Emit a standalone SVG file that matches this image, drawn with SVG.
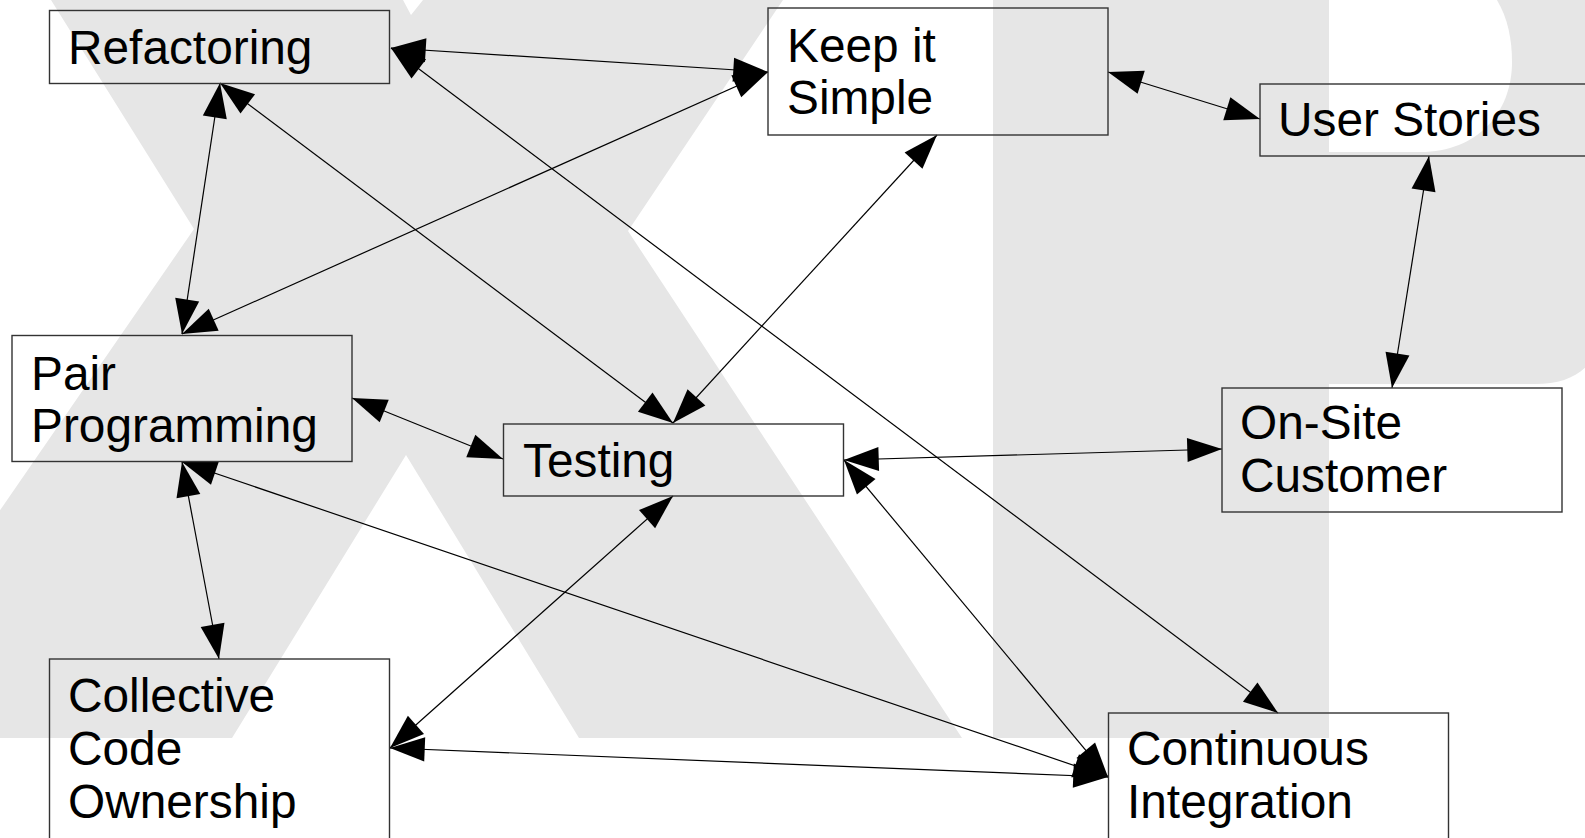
<svg xmlns="http://www.w3.org/2000/svg" width="1585" height="838" viewBox="0 0 1585 838">
  <style>
    .bg { fill: #e6e6e6; stroke: none; }
    .box { fill: none; stroke: #333333; stroke-width: 1.4; }
    .lbl { font-family: "Liberation Sans", Arial, sans-serif; font-size: 47.8px; fill: #000000; }
    .edge { stroke: #000000; stroke-width: 1.2; fill: none; marker-start: url(#head); marker-end: url(#head); }
  </style>
  <defs>
    <marker id="head" markerUnits="userSpaceOnUse" markerWidth="40" markerHeight="30" viewBox="-36 -14 38 28" refX="0" refY="0" orient="auto-start-reverse">
      <path d="M0,0 L-33,-11.5 L-33,11.5 Z" fill="#000000"/>
    </marker>
  </defs>

  <rect width="1585" height="838" fill="#ffffff"/>

  <!-- background lettering: X and P -->
  <g id="backdrop">
    <path class="bg" d="M51,0 L403,0 L411,15 L423,0 L783,0 L628,231 L962,738 L579,738 L406,455 L232,738 L-157,738 L194,229 Z"/>
    <path class="bg" d="M993,-10 L1600,-10 L1600,345 C1590,370 1570,384 1535,384 L1329,384 L1329,738 L993,738 Z"/>
    <path fill="#ffffff" d="M1329,-10 L1490,-10 C1506,10 1512,35 1512,62 C1512,112 1478,152 1420,152 L1329,152 Z"/>
  </g>

  <!-- connectors -->
  <g id="connectors">
    <line class="edge" x1="391" y1="48" x2="768" y2="72"/>
    <line class="edge" x1="220" y1="83" x2="182" y2="334"/>
    <line class="edge" x1="220" y1="83" x2="673" y2="423"/>
    <line class="edge" x1="391" y1="48" x2="1278" y2="713"/>
    <line class="edge" x1="768" y1="72" x2="182" y2="334"/>
    <line class="edge" x1="1108" y1="72" x2="1260" y2="119"/>
    <line class="edge" x1="937" y1="135" x2="673" y2="423"/>
    <line class="edge" x1="1429" y1="156" x2="1392" y2="388"/>
    <line class="edge" x1="352" y1="398" x2="503" y2="459"/>
    <line class="edge" x1="182" y1="462" x2="219" y2="659"/>
    <line class="edge" x1="182" y1="462" x2="1108" y2="777"/>
    <line class="edge" x1="844" y1="460" x2="1222" y2="449"/>
    <line class="edge" x1="673" y1="496" x2="390" y2="748"/>
    <line class="edge" x1="844" y1="460" x2="1108" y2="777"/>
    <line class="edge" x1="390" y1="748" x2="1108" y2="777"/>
  </g>

  <g id="refactoring">
    <rect class="box" x="49.5" y="10.5" width="340" height="73"/>
    <text class="lbl" x="68" y="64">Refactoring</text>
  </g>

  <g id="keep-it-simple">
    <rect class="box" x="768" y="8" width="340" height="127"/>
    <text class="lbl" x="787" y="62">Keep it</text>
    <text class="lbl" x="787" y="114">Simple</text>
  </g>

  <g id="user-stories">
    <rect class="box" x="1260" y="84" width="340" height="72"/>
    <text class="lbl" x="1278" y="136">User Stories</text>
  </g>

  <g id="pair-programming">
    <rect class="box" x="12" y="335.5" width="340" height="126"/>
    <text class="lbl" x="31" y="389.5">Pair</text>
    <text class="lbl" x="31" y="441.5">Programming</text>
  </g>

  <g id="testing">
    <rect class="box" x="503.5" y="424" width="340" height="72"/>
    <text class="lbl" x="523" y="477">Testing</text>
  </g>

  <g id="on-site-customer">
    <rect class="box" x="1222" y="388" width="340" height="124"/>
    <text class="lbl" x="1240" y="438.5">On-Site</text>
    <text class="lbl" x="1240" y="491.5">Customer</text>
  </g>

  <g id="collective-code-ownership">
    <rect class="box" x="49.5" y="659" width="340" height="200"/>
    <text class="lbl" x="68" y="712">Collective</text>
    <text class="lbl" x="68" y="765">Code</text>
    <text class="lbl" x="68" y="818">Ownership</text>
  </g>

  <g id="continuous-integration">
    <rect class="box" x="1108.5" y="713" width="340" height="140"/>
    <text class="lbl" x="1127" y="765">Continuous</text>
    <text class="lbl" x="1127" y="818">Integration</text>
  </g>
</svg>
